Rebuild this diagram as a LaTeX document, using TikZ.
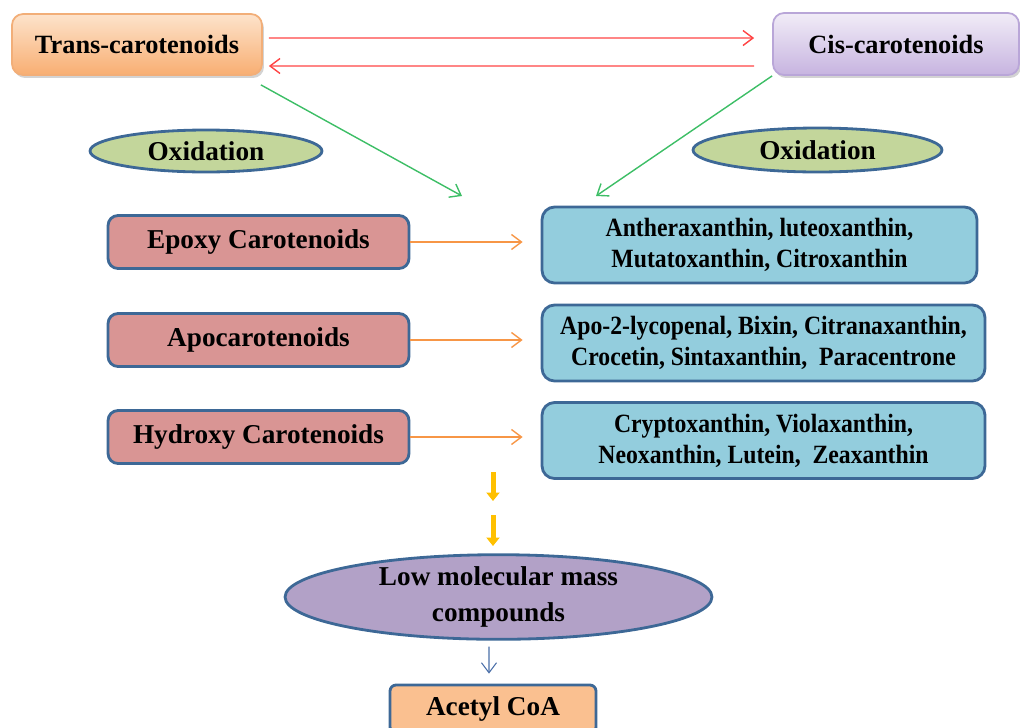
\documentclass[tikz,border=0pt]{standalone}
\usepackage{fontspec}
\setmainfont{Liberation Serif}
\newfontfamily\narrowserif[FakeStretch=0.9]{Liberation Serif}
\usetikzlibrary{arrows.meta,shapes.geometric,shadows,calc}

\definecolor{edgeblue}{HTML}{3D6896}
\definecolor{pinkfill}{HTML}{D99594}
\definecolor{cyanfill}{HTML}{93CDDD}
\definecolor{olivefill}{HTML}{C3D69B}
\definecolor{lilacfill}{HTML}{B2A1C7}
\definecolor{peachfill}{HTML}{FAC090}
\definecolor{transtop}{HTML}{FDE3CB}
\definecolor{transbot}{HTML}{F8AE72}
\definecolor{transedge}{HTML}{F2AE78}
\definecolor{cistop}{HTML}{F1ECF7}
\definecolor{cisbot}{HTML}{C7B4E0}
\definecolor{cisedge}{HTML}{B9A6D8}
\definecolor{arrred}{HTML}{FF4545}
\definecolor{arrgreen}{HTML}{3DBE66}
\definecolor{arrorange}{HTML}{F79646}
\definecolor{arrgold}{HTML}{FFC000}
\definecolor{arrblue}{HTML}{4A6EA8}

\tikzset{
  lbl/.style={font=\fontsize{15.5}{20}\selectfont\bfseries, align=center, inner sep=0pt},
  topbox/.style={lbl, font=\fontsize{15}{18}\selectfont\bfseries, rectangle,
    rounded corners=0.22cm, line width=1pt,
    drop shadow={shadow xshift=0.04cm, shadow yshift=-0.06cm, opacity=0.35}},
  pinkbox/.style={lbl, rectangle, rounded corners=0.2cm, draw=edgeblue, line width=1.6pt,
    fill=pinkfill, minimum width=6.02cm, minimum height=1.06cm},
  cyanbox/.style={lbl, font=\narrowserif\fontsize{15}{17.6}\selectfont\bfseries,
    rectangle, rounded corners=0.25cm, draw=edgeblue, line width=1.6pt,
    fill=cyanfill, minimum height=1.52cm},
  oxell/.style={lbl, ellipse, draw=edgeblue, line width=1.6pt, fill=olivefill},
  thinarr/.style={-{Straight Barb[length=0.2cm,width=0.3cm]}, line width=0.8pt},
  goldarr/.style={-{Triangle[length=0.17cm,width=0.26cm]}, line width=0.1cm, draw=arrgold}
}

\begin{document}
\begin{tikzpicture}[x=0.02cm,y=-0.02cm]
\useasboundingbox (0,0) rectangle (1020,727);

% top pair
\node[topbox, draw=transedge, top color=transtop, bottom color=transbot,
  minimum width=5.0cm, minimum height=1.22cm] (trans) at (137,44.5) {Trans-carotenoids};
\node[topbox, draw=cisedge, top color=cistop, bottom color=cisbot,
  minimum width=4.92cm, minimum height=1.24cm] (cis) at (896,44) {Cis-carotenoids};

% oxidation labels
\node[oxell, minimum width=4.64cm, minimum height=0.84cm] (oxl) at (206,151) {Oxidation};
\node[oxell, minimum width=4.98cm, minimum height=0.88cm] (oxr) at (817.5,150) {Oxidation};

% carotenoid classes
\node[pinkbox] (epoxy) at (258.5,242) {Epoxy Carotenoids};
\node[pinkbox] (apo)   at (258.5,340) {Apocarotenoids};
\node[pinkbox] (hydro) at (258.5,437) {Hydroxy Carotenoids};

% products
\node[cyanbox, minimum width=8.7cm]  (prodA) at (759.5,245)
  {Antheraxanthin, luteoxanthin,\\Mutatoxanthin, Citroxanthin};
\node[cyanbox, minimum width=8.86cm] (prodB) at (763.5,343)
  {Apo-2-lycopenal, Bixin, Citranaxanthin,\\Crocetin, Sintaxanthin,~ Paracentrone};
\node[cyanbox, minimum width=8.86cm] (prodC) at (763.5,440.5)
  {Cryptoxanthin, Violaxanthin,\\Neoxanthin, Lutein,~ Zeaxanthin};

% degradation
\node[lbl, ellipse, draw=edgeblue, line width=1.6pt, fill=lilacfill,
  minimum width=8.54cm, minimum height=1.48cm] (low) at (498.5,597)
  {Low molecular mass\\compounds};
\node[lbl, rectangle, rounded corners=0.12cm, draw=edgeblue, line width=1.6pt,
  fill=peachfill, minimum width=4.12cm, minimum height=0.96cm] (acetyl) at (493,709)
  {Acetyl CoA};

% isomerisation arrows
\draw[thinarr, arrred] ([xshift=0.12cm,yshift=0.13cm]trans.east)
  -- ([xshift=-0.36cm,yshift=0.12cm]cis.west);
\draw[thinarr, arrred] ([xshift=-0.36cm,yshift=-0.44cm]cis.west)
  -- ([xshift=0.12cm,yshift=-0.43cm]trans.east);

% oxidation arrows
\coordinate (gl) at (462,196);
\coordinate (gr) at (596,196);
\draw[thinarr, arrgreen] ([xshift=-0.04cm,yshift=-0.18cm]trans.south east) -- (gl);
\draw[thinarr, arrgreen] (cis.south west) -- (gr);

\draw[thinarr, arrorange, shorten >=0.36cm] (epoxy.east) -- (epoxy.east -| prodA.west);
\draw[thinarr, arrorange, shorten >=0.36cm] (apo.east) -- (apo.east -| prodB.west);
\draw[thinarr, arrorange, shorten >=0.36cm] (hydro.east) -- (hydro.east -| prodC.west);

% breakdown arrows
\coordinate (y1a) at (493,472); \coordinate (y1b) at (493,501);
\coordinate (y2a) at (493,515); \coordinate (y2b) at (493,546);
\draw[goldarr] (y1a) -- (y1b);
\draw[goldarr] (y2a) -- (y2b);

\draw[thinarr, arrblue, line width=0.6pt] ([xshift=-0.19cm,yshift=-0.12cm]low.south)
  -- ([xshift=-0.08cm,yshift=0.2cm]acetyl.north);
\end{tikzpicture}
\end{document}
